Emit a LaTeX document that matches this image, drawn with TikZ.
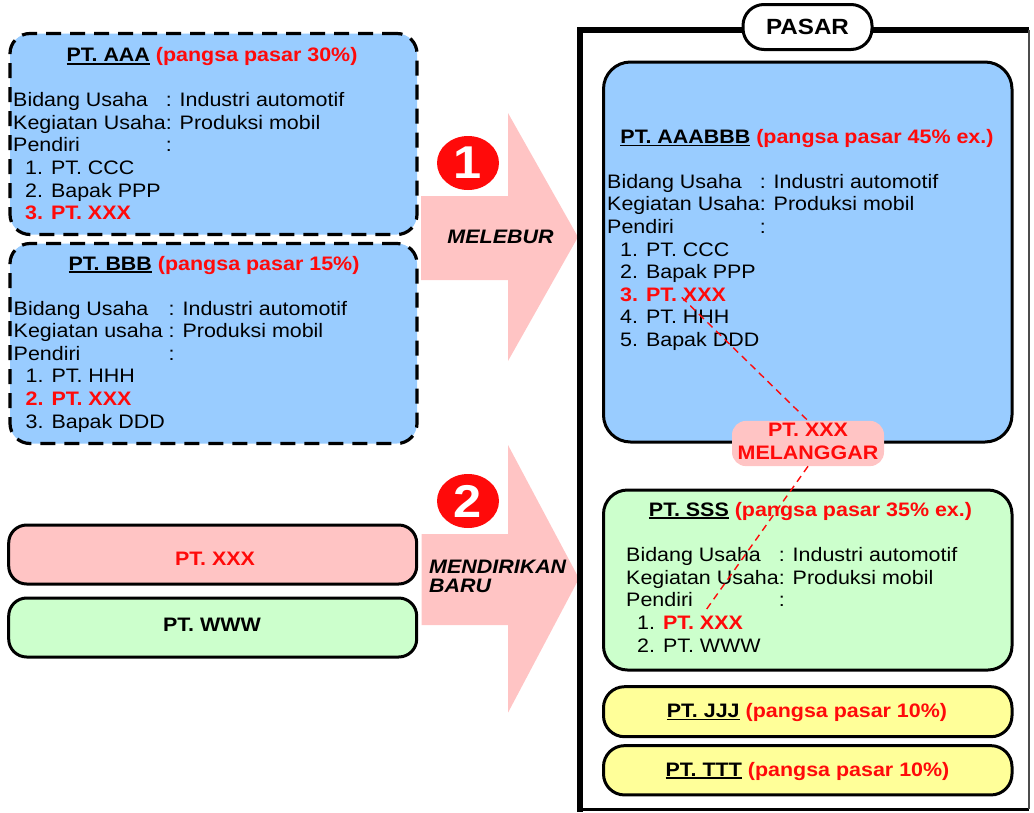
\documentclass[tikz,border=0pt]{standalone}
\usepackage{fontspec}
\setmainfont{Liberation Sans}[FakeStretch=1.1]
\usetikzlibrary{shapes.geometric}
\definecolor{boxblue}{HTML}{99CCFF}
\definecolor{boxpink}{HTML}{FFC4C4}
\definecolor{arrowpink}{HTML}{FFC4C4}
\definecolor{boxgreen}{HTML}{CCFFCC}
\definecolor{boxyellow}{HTML}{FFFF99}
\definecolor{txtred}{HTML}{FF0A0A}
\newcommand\bodyfont{\fontsize{19.5}{22.6}\selectfont}
\newcommand\ulin[1]{\setbox0\hbox{#1}\rlap{\rule[-3pt]{\wd0}{1.6pt}}\box0\relax}
\newcommand\padto[2]{\setbox0\hbox{#2}\hbox to \wd0{#1\hfil}}
\newcommand\redb[1]{\textcolor{txtred}{\bfseries #1}}
\newcommand\itm[1]{\hspace*{#1pt}}
\begin{document}
\begin{tikzpicture}[x=1pt,y=-1pt,
  card/.style={draw=black, line width=3pt, inner sep=0pt},
  dcard/.style={card, line width=3.2pt, dash pattern=on 15pt off 9pt},
  ttl/.style={anchor=base, inner sep=0pt, font=\bodyfont\bfseries},
  bod/.style={anchor=base west, inner sep=0pt, font=\bodyfont},
  bigarrow/.style={fill=arrowpink, draw=none},
  numdot/.style={ellipse, fill=txtred, minimum width=62pt, minimum height=54pt, inner sep=0pt, text=white, font=\fontsize{46}{46}\selectfont\bfseries},
  viol/.style={draw=txtred, line width=1.4pt, dash pattern=on 7pt off 5pt}]
\useasboundingbox (0,0) rectangle (1034,812);

% big arrows
\path[bigarrow] (421,196) -- (508,196) -- (508,113) -- (578,237) -- (508,361) -- (508,280) -- (421,280) -- cycle;
\path[bigarrow] (421.7,534) -- (508,534) -- (508,445) -- (579,578.5) -- (508,712.7) -- (508,625) -- (421.7,625) -- cycle;
\node[numdot] (n1) at (468,163) {1};
\node[numdot] (n2) at (468,501) {2};
\node[anchor=base, inner sep=0pt, font=\bodyfont\bfseries\itshape] (melebur) at (500.5,243) {MELEBUR};
\node[anchor=base west, inner sep=0pt, font=\fontsize{19.5}{19.4}\selectfont\bfseries\itshape] (mendirikan) at (429,573.3)
  {\begin{tabular}[t]{@{}l@{}}MENDIRIKAN\\BARU\end{tabular}};

% market frame
\draw[line width=6pt] (1029,30) -- (580,30) -- (580,812);
\draw[line width=3pt] (580,809) -- (1029,809);
\draw[line width=1.5pt, black!70] (1029,30) -- (1029,809);
\node[card, fill=white, rounded corners=21pt, minimum width=129pt, minimum height=45pt, font=\fontsize{22}{22}\selectfont\bfseries] (pasar) at (807.5,27) {PASAR};

% left: PT. AAA
\node[dcard, fill=boxblue, rounded corners=20pt, minimum width=407pt, minimum height=201pt] (aaa) at (213.5,134) {};
\node[ttl] (aaat) at (212,61.7) {\ulin{PT. AAA} \textcolor{txtred}{(pangsa pasar 30\%)}};
\node[bod] (aaab) at (13,106.7) {\begin{tabular}[t]{@{}l@{}}
\padto{Bidang Usaha}{Kegiatan Usaha}: Industri automotif\\
Kegiatan Usaha: Produksi mobil\\
\padto{Pendiri}{Kegiatan Usaha}:\\
\itm{12}1. PT. CCC\\
\itm{12}2. Bapak PPP\\
\itm{12}\redb{3. PT. XXX}
\end{tabular}};

% left: PT. BBB
\node[dcard, fill=boxblue, rounded corners=20pt, minimum width=407pt, minimum height=200pt] (bbb) at (213.5,343.5) {};
\node[ttl] (bbbt) at (214,270) {\ulin{PT. BBB} \textcolor{txtred}{(pangsa pasar 15\%)}};
\node[bod] (bbbb) at (13.5,315) {\begin{tabular}[t]{@{}l@{}}
\padto{Bidang Usaha}{Kegiatan usaha }: Industri automotif\\
Kegiatan usaha : Produksi mobil\\
\padto{Pendiri}{Kegiatan usaha }:\\
\itm{12}1. PT. HHH\\
\itm{12}\redb{2. PT. XXX}\\
\itm{12}3. Bapak DDD
\end{tabular}};

% left: PT. XXX and PT. WWW
\node[card, fill=boxpink, rounded corners=18pt, minimum width=408pt, minimum height=59pt] (xxx) at (212.7,554.5) {};
\node[ttl, text=txtred] (xxxt) at (215,565.7) {PT. XXX};
\node[card, fill=boxgreen, rounded corners=18pt, minimum width=408pt, minimum height=59pt] (www) at (212.7,627.5) {};
\node[ttl] (wwwt) at (212,631.7) {PT. WWW};

% market: PT. AAABBB
\node[card, fill=boxblue, rounded corners=27pt, minimum width=408.5pt, minimum height=380pt] (ab) at (807.75,252) {};
\node[ttl] (abt) at (807,143.3) {\ulin{PT. AAABBB} \textcolor{txtred}{(pangsa pasar 45\% ex.)}};
\node[bod] (abb) at (607,188.3) {\begin{tabular}[t]{@{}l@{}}
\padto{Bidang Usaha}{Kegiatan Usaha}: Industri automotif\\
Kegiatan Usaha: Produksi mobil\\
\padto{Pendiri}{Kegiatan Usaha}:\\
\itm{13}1. PT. CCC\\
\itm{13}2. Bapak PPP\\
\itm{13}\redb{3. PT. XXX}\\
\itm{13}4. PT. HHH\\
\itm{13}5. Bapak DDD
\end{tabular}};

% market: PT. SSS
\node[card, fill=boxgreen, rounded corners=24pt, minimum width=408.5pt, minimum height=180pt] (sss) at (807.75,580) {};
\node[ttl] (ssst) at (810.5,516) {\ulin{PT. SSS} \textcolor{txtred}{(pangsa pasar 35\% ex.)}};
\node[bod] (sssb) at (626,561.7) {\begin{tabular}[t]{@{}l@{}}
\padto{Bidang Usaha}{Kegiatan Usaha}: Industri automotif\\
Kegiatan Usaha: Produksi mobil\\
\padto{Pendiri}{Kegiatan Usaha}:\\
\itm{11}1. \redb{PT. XXX}\\
\itm{11}2. PT. WWW
\end{tabular}};

% market: PT. JJJ and PT. TTT
\node[card, fill=boxyellow, rounded corners=21pt, minimum width=408.5pt, minimum height=50pt] (jjj) at (807.75,711.7) {};
\node[ttl] (jjjt) at (807,717.3) {\ulin{PT. JJJ} \textcolor{txtred}{(pangsa pasar 10\%)}};
\node[card, fill=boxyellow, rounded corners=21pt, minimum width=408.5pt, minimum height=49.3pt] (ttt) at (807.75,770.3) {};
\node[ttl] (tttt) at (807.5,776) {\ulin{PT. TTT} \textcolor{txtred}{(pangsa pasar 10\%)}};

% violation marker
\coordinate (xa) at (681.7,297.3);
\coordinate (xs) at (706,610);
\node[fill=boxpink, rounded corners=14pt, minimum width=152pt, minimum height=45pt, inner sep=0pt, text=txtred, font=\bodyfont\bfseries] (mel) at (808,443.5)
  {\begin{tabular}{@{}c@{}}PT. XXX\\MELANGGAR\end{tabular}};
\draw[viol] (xa) -- (mel.north);
\draw[viol] (mel.south) -- (xs);
\end{tikzpicture}
\end{document}
